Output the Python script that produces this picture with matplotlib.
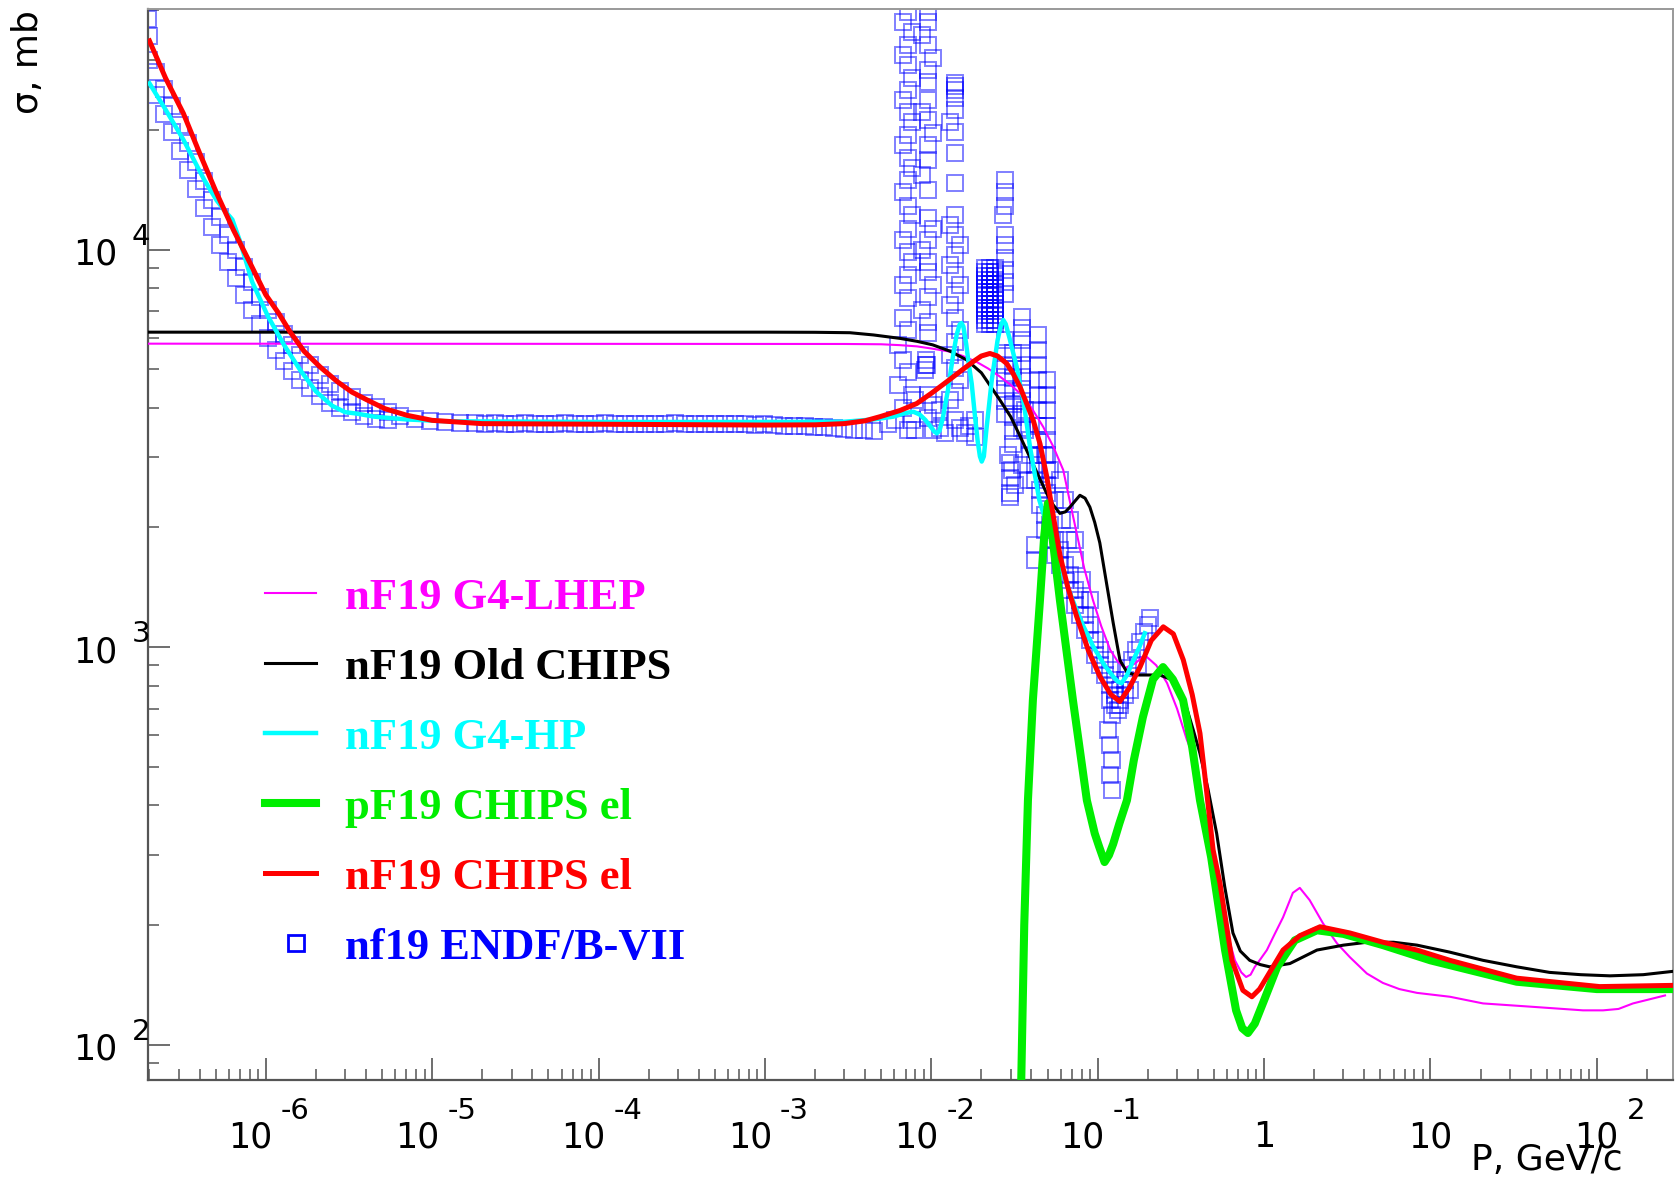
import matplotlib
matplotlib.use("Agg")
import matplotlib.pyplot as plt
from matplotlib.lines import Line2D

W, H, DPI = 1680, 1179, 100

# ---------------- data (P in GeV/c, sigma in mb) ----------------
lhep_p = [1.9e-7, 3.0e-3, 5.0e-3, 6.5e-3, 8.2e-3, 1.0e-2, 1.29e-2, 1.55e-2, 1.87e-2, 2.2e-2,
          2.59e-2, 3.0e-2, 3.41e-2, 4.0e-2, 4.71e-2, 5.4e-2, 6.21e-2, 6.8e-2, 7.48e-2, 8.3e-2,
          9.37e-2, 0.105, 0.119, 0.132, 0.146, 0.168, 0.192, 0.225, 0.261, 0.30, 0.344, 0.396,
          0.474, 0.583, 0.668, 0.73, 0.78, 0.83, 0.88, 0.95, 1.04, 1.16, 1.30, 1.49, 1.64,
          1.88, 2.26, 2.74, 3.28, 4.15, 5.18, 6.5, 8.3, 13.1, 20.7, 41.4, 82.6, 109, 135,
          165, 257]
lhep_s = [5800, 5790, 5780, 5750, 5710, 5640, 5540, 5400, 5220, 5020,
          4790, 4570, 4350, 4000, 3580, 3200, 2790, 2330, 1935, 1580,
          1313, 1130, 984, 920, 886, 910, 955, 900, 813, 700, 584, 505,
          309, 200, 163, 152, 148, 150, 157, 164, 173, 190, 209, 241, 248,
          231, 202, 180, 166, 151, 143, 138, 135, 132, 127, 124.5, 122, 122, 123,
          127, 133]

old_p = [1.9e-7, 1.0e-3, 2.0e-3, 3.24e-3, 4.5e-3, 6.49e-3, 8.2e-3, 1.02e-2, 1.3e-2, 1.63e-2,
         2.0e-2, 2.58e-2, 3.0e-2, 3.41e-2, 4.10e-2, 4.93e-2, 5.4e-2, 5.93e-2, 6.4e-2, 6.81e-2,
         7.3e-2, 7.82e-2, 8.4e-2, 8.98e-2, 9.6e-2, 0.103, 0.113, 0.124, 0.136, 0.150, 0.165,
         0.179, 0.236, 0.284, 0.327, 0.375, 0.412, 0.46, 0.519, 0.58, 0.65, 0.72, 0.82, 0.95,
         1.08, 1.43, 2.08, 3.0, 4.15, 6.0, 8.3, 13, 20.7, 33, 52, 80, 120, 190, 290]
old_s = [6200, 6200, 6195, 6180, 6100, 5980, 5880, 5760, 5550, 5280,
         4900, 4190, 3800, 3400, 2880, 2440, 2280, 2170, 2190, 2250,
         2330, 2410, 2370, 2250, 2060, 1830, 1450, 1150, 928, 865, 853,
         851, 851, 826, 750, 620, 540, 440, 340, 250, 191, 172, 163, 159,
         157, 160, 173, 178, 181, 181, 178, 171, 163, 157, 152, 150, 149, 150, 153]

hp_p = [2.0e-7, 2.5e-7, 3.2e-7, 4.26e-7, 5.07e-7, 5.6e-7, 6.3e-7, 7.0e-7, 8.28e-7, 1.03e-6,
        1.29e-6, 1.61e-6, 2.0e-6, 2.5e-6, 3.0e-6, 3.5e-6, 4.5e-6, 7.0e-6, 1.2e-5, 1e-4,
        1e-3, 3e-3, 4.5e-3, 5.91e-3, 7.0e-3, 7.8e-3, 8.5e-3, 9.2e-3, 1.0e-2, 1.04e-2,
        1.08e-2, 1.12e-2, 1.17e-2, 1.26e-2, 1.35e-2, 1.42e-2, 1.48e-2, 1.52e-2, 1.56e-2,
        1.62e-2, 1.68e-2, 1.75e-2, 1.82e-2, 1.90e-2, 1.96e-2, 2.01e-2, 2.07e-2, 2.14e-2,
        2.31e-2, 2.50e-2, 2.62e-2, 2.71e-2, 2.80e-2, 2.95e-2, 3.26e-2, 3.6e-2, 3.92e-2,
        4.46e-2, 5.0e-2, 5.61e-2, 6.3e-2, 7.07e-2, 8.2e-2, 9.42e-2, 0.11, 0.124, 0.132,
        0.139, 0.15, 0.164, 0.178, 0.192]
hp_s = [26200, 22500, 18900, 15000, 13300, 12600, 11900, 10500, 8300, 6800,
        5750, 4980, 4400, 4050, 3900, 3870, 3800, 3740, 3700, 3685,
        3685, 3690, 3740, 3800, 3880, 3910, 3850, 3730, 3570, 3490,
        3450, 3500, 3750, 4440, 5400, 6100, 6480, 6540, 6400,
        5800, 5150, 4600, 3900, 3300, 3020, 2930, 3020, 3500,
        4700, 5900, 6450, 6650, 6500, 6000, 5070, 4100, 3190,
        2345, 2000, 1754, 1500, 1313, 1130, 1002, 900, 843, 820,
        811, 850, 929, 1000, 1084]

pel_p = [0.0330, 0.0346, 0.0362, 0.0381, 0.0408, 0.0450, 0.0477, 0.0502, 0.0530, 0.0593,
         0.0710, 0.0861, 0.096, 0.102, 0.110, 0.117, 0.124, 0.135, 0.150, 0.165, 0.187,
         0.215, 0.247, 0.283, 0.326, 0.37, 0.412, 0.481, 0.583, 0.679, 0.74, 0.80, 0.88,
         0.998, 1.20, 1.53, 2.08, 3.0, 5.19, 10, 33, 100, 290]
pel_s = [30, 75, 200, 412, 736, 1313, 1900, 2300, 1950, 1313,
         736, 412, 340, 315, 288, 300, 320, 360, 412, 520, 667,
         830, 891, 830, 736, 560, 412, 296, 173, 122, 110, 107, 113,
         129, 157, 183, 194, 190, 178, 163, 144, 138, 138]

nel_p = [2.0e-7, 2.5e-7, 3.20e-7, 4.0e-7, 5.07e-7, 6.4e-7, 8.05e-7, 1.0e-6, 1.2e-6, 1.40e-6,
         1.7e-6, 2.12e-6, 2.7e-6, 3.3e-6, 4.05e-6, 5.2e-6, 7.06e-6, 1.0e-5, 2.0e-5, 1e-3,
         2.0e-3, 3.0e-3, 4.0e-3, 4.92e-3, 6.5e-3, 8.17e-3, 1.0e-2, 1.28e-2, 1.55e-2, 1.79e-2,
         2.0e-2, 2.25e-2, 2.5e-2, 2.84e-2, 3.1e-2, 3.41e-2, 3.7e-2, 4.10e-2, 4.5e-2, 4.93e-2,
         5.4e-2, 5.94e-2, 6.6e-2, 7.48e-2, 8.8e-2, 0.1033, 0.12, 0.136, 0.155, 0.180, 0.21,
         0.248, 0.285, 0.327, 0.37, 0.412, 0.45, 0.494, 0.543, 0.641, 0.746, 0.845, 0.94,
         1.04, 1.30, 1.64, 2.17, 3.28, 5.19, 8.3, 13.1, 33, 104, 290]
nel_s = [33500, 27000, 22000, 17500, 13860, 11200, 9250, 7700, 6900, 6210,
         5550, 5070, 4650, 4380, 4190, 3980, 3830, 3720, 3650, 3620,
         3625, 3650, 3710, 3800, 3940, 4100, 4350, 4700, 5000, 5230,
         5400, 5480, 5400, 5170, 4880, 4520, 4150, 3720, 3250, 2700,
         2150, 1700, 1420, 1194, 980, 843, 760, 730, 790, 893, 1040,
         1125, 1080, 929, 760, 607, 440, 309, 255, 163, 137, 132, 138,
         148, 173, 188, 198, 191, 181, 173, 163, 147, 140, 141]

# ENDF/B-VII points: smooth low-momentum part (two close rows on the steep part)
endf_low_p = [1.96e-7, 2.0e-7, 2.19e-7, 2.45e-7, 2.74e-7, 3.06e-7, 3.41e-7, 3.81e-7, 4.26e-7,
              4.75e-7, 5.31e-7, 5.93e-7, 6.62e-7, 7.41e-7, 8.28e-7, 9.25e-7, 1.03e-6, 1.15e-6,
              1.29e-6, 1.44e-6, 1.61e-6, 1.85e-6, 2.12e-6, 2.43e-6, 2.80e-6, 3.30e-6, 3.90e-6,
              4.60e-6, 5.43e-6, 6.41e-6, 7.89e-6, 9.70e-6, 1.19e-5, 1.47e-5,
              1.81e-5, 2.08e-5, 2.39e-5, 2.74e-5, 3.15e-5, 3.61e-5, 4.15e-5, 4.76e-5, 5.47e-5,
              6.28e-5, 7.21e-5, 8.27e-5, 9.50e-5, 1.09e-4, 1.25e-4, 1.44e-4, 1.65e-4, 1.89e-4,
              2.17e-4, 2.50e-4, 2.87e-4, 3.29e-4, 3.78e-4, 4.34e-4, 4.98e-4, 5.72e-4, 6.57e-4,
              7.54e-4, 8.66e-4, 9.94e-4, 1.14e-3, 1.31e-3, 1.50e-3, 1.73e-3, 1.98e-3, 2.28e-3,
              2.61e-3, 3.00e-3, 3.45e-3, 3.96e-3, 4.54e-3,
              2.0e-7, 2.19e-7, 2.45e-7, 2.74e-7, 3.06e-7, 3.41e-7, 3.81e-7, 4.26e-7, 4.75e-7,
              5.31e-7, 5.93e-7, 6.62e-7, 7.41e-7, 8.28e-7, 9.25e-7, 1.03e-6, 1.15e-6, 1.29e-6,
              1.44e-6, 1.61e-6, 1.85e-6, 2.12e-6, 2.43e-6, 2.80e-6, 3.30e-6, 3.90e-6, 4.60e-6,
              5.43e-6]
endf_low_s = [38000, 34500, 28000, 25400, 23000, 20600, 18500, 16600, 14900,
              13300, 12100, 10900, 9980, 9030, 8280, 7600, 7050, 6570,
              6130, 5760, 5430, 5120, 4830, 4590, 4410, 4270, 4120,
              4030, 3910, 3820, 3750, 3710, 3690, 3670,
              3660, 3650, 3660, 3640, 3650, 3660, 3650, 3640, 3650,
              3660, 3650, 3640, 3650, 3660, 3650, 3640, 3650, 3650,
              3640, 3650, 3660, 3650, 3640, 3650, 3650, 3640, 3650,
              3640, 3630, 3640, 3620, 3610, 3600, 3590, 3580, 3570,
              3560, 3540, 3520, 3510, 3500,
              30000, 24500, 22000, 19800, 17700, 15900, 14200, 12700, 11400,
              10300, 9300, 8500, 7700, 7050, 6500, 6000, 5600, 5250,
              4950, 4700, 4480, 4280, 4120, 4000, 3900, 3820, 3760,
              3720]

# ENDF/B-VII points: resonance region
endf_res_p = [
    # column near 7e-3
    7.24e-3, 6.76e-3, 7.66e-3, 7.24e-3, 6.76e-3, 7.24e-3, 7.66e-3, 7.24e-3, 6.76e-3, 7.24e-3,
    7.66e-3, 7.24e-3, 6.76e-3, 7.24e-3, 7.66e-3, 7.24e-3, 6.76e-3, 7.24e-3, 7.66e-3, 7.24e-3,
    6.76e-3, 7.24e-3, 7.66e-3, 7.24e-3, 6.76e-3, 7.24e-3, 6.76e-3, 7.24e-3, 6.31e-3, 6.76e-3,
    7.24e-3, 6.31e-3, 7.66e-3, 6.76e-3, 7.66e-3, 7.24e-3,
    # column near 9.5e-3
    9.55e-3, 9.55e-3, 8.79e-3, 9.55e-3, 1.023e-2, 9.55e-3, 9.55e-3, 9.55e-3, 8.79e-3, 9.55e-3,
    1.023e-2, 9.55e-3, 9.55e-3, 8.79e-3, 9.55e-3, 9.55e-3, 1.023e-2, 9.55e-3, 8.79e-3, 9.55e-3,
    9.55e-3, 1.023e-2, 9.55e-3, 8.79e-3, 9.55e-3, 9.55e-3, 9.3e-3, 9.3e-3, 9.4e-3, 9.2e-3,
    9.55e-3, 1.023e-2, 9.55e-3, 1.023e-2,
    # column near 1.4e-2
    1.387e-2, 1.387e-2, 1.387e-2, 1.387e-2, 1.387e-2, 1.294e-2, 1.387e-2, 1.387e-2, 1.387e-2,
    1.387e-2, 1.294e-2, 1.387e-2, 1.486e-2, 1.387e-2, 1.294e-2, 1.387e-2, 1.486e-2, 1.387e-2,
    1.294e-2, 1.387e-2, 1.486e-2, 1.387e-2, 1.294e-2, 1.387e-2, 1.486e-2, 1.387e-2, 1.294e-2,
    1.387e-2, 1.486e-2,
    # column near 2.7e-2 (upper)
    2.77e-2, 2.77e-2, 2.77e-2, 2.70e-2, 2.77e-2, 2.77e-2, 2.77e-2, 2.77e-2, 2.77e-2, 2.77e-2,
    # dense block near 2.25e-2
    2.10e-2, 2.10e-2, 2.10e-2, 2.10e-2, 2.10e-2, 2.10e-2, 2.10e-2, 2.10e-2,
    2.10e-2, 2.10e-2, 2.10e-2, 2.10e-2, 2.10e-2, 2.10e-2, 2.10e-2,
    2.25e-2, 2.25e-2, 2.25e-2, 2.25e-2, 2.25e-2, 2.25e-2, 2.25e-2, 2.25e-2,
    2.25e-2, 2.25e-2, 2.25e-2, 2.25e-2, 2.25e-2, 2.25e-2, 2.25e-2,
    2.41e-2, 2.41e-2, 2.41e-2, 2.41e-2, 2.41e-2, 2.41e-2, 2.41e-2, 2.41e-2,
    2.41e-2, 2.41e-2, 2.41e-2, 2.41e-2, 2.41e-2, 2.41e-2, 2.41e-2,
    # column near 2.77e-2 (lower) and 3e-2
    2.77e-2, 2.77e-2, 2.77e-2, 2.77e-2, 2.77e-2, 2.77e-2, 2.77e-2,
    2.97e-2, 2.97e-2, 2.97e-2,
    3.1e-2, 3.1e-2, 3.1e-2, 3.1e-2, 3.1e-2, 3.1e-2, 3.1e-2, 3.1e-2,
    # column near 3.5e-2
    3.51e-2, 3.51e-2, 3.51e-2, 3.51e-2, 3.51e-2, 3.51e-2, 3.51e-2, 3.51e-2, 3.51e-2, 3.51e-2,
    # columns near 4.4e-2 and 5e-2
    4.36e-2, 4.36e-2, 4.36e-2, 4.36e-2, 4.36e-2, 4.36e-2, 4.36e-2, 4.36e-2, 4.36e-2,
    4.98e-2, 4.98e-2, 4.98e-2, 4.98e-2, 4.98e-2, 4.98e-2, 4.98e-2, 4.98e-2, 4.98e-2,
    # low points between resonances
    5.49e-3, 6.05e-3, 7.98e-3, 7.98e-3, 1.127e-2, 1.127e-2, 1.828e-2, 1.828e-2, 1.68e-2,
    1.21e-2, 1.60e-2,
    # falling edge
    3.66e-2, 3.66e-2, 3.92e-2, 3.92e-2, 4.20e-2, 4.20e-2, 4.50e-2, 4.50e-2, 4.82e-2, 4.82e-2,
    5.16e-2, 5.16e-2, 5.53e-2, 5.53e-2, 5.93e-2, 5.93e-2, 6.35e-2, 6.35e-2, 6.81e-2, 6.81e-2,
    7.29e-2, 7.29e-2, 7.82e-2, 7.82e-2, 8.38e-2, 8.38e-2, 8.98e-2, 8.98e-2, 9.62e-2, 9.62e-2,
    0.103, 0.103, 0.111, 0.111, 0.119, 0.119, 0.127, 0.127, 0.136, 0.136, 0.1324,
    2.89e-2, 3.05e-2, 3.18e-2, 2.97e-2, 4.20e-2, 4.20e-2, 5.93e-2, 6.35e-2, 6.81e-2, 7.29e-2,
    5.16e-2, 5.53e-2, 6.10e-2, 6.63e-2, 7.29e-2, 8.05e-2, 8.98e-2, 4.82e-2, 3.81e-2, 3.51e-2,
    # deep points near 0.12
    0.119, 0.122, 0.1153, 0.119, 0.122, 0.119, 0.122,
    0.127, 0.127, 0.136, 0.146,
    # rise near 0.15-0.2
    0.146, 0.152, 0.1607, 0.170, 0.179, 0.1897, 0.2005, 0.206, 0.156, 0.1746,
]
endf_res_s = [
    39600, 37400, 35300, 32700, 30900, 29100, 27000, 25200, 23800, 22200,
    20900, 19400, 18300, 17000, 16000, 15000, 14000, 12900, 12200, 11300,
    10600, 9860, 9310, 8630, 8150, 7550, 6730, 6280, 5750, 5280,
    4920, 4560, 4310, 4000, 3730, 3520,
    39600, 37400, 34700, 32700, 30400, 28300, 26400, 23800, 22200, 21200,
    19600, 18300, 16800, 15400, 14100, 12000, 11300, 10600, 9980, 9310,
    8790, 8150, 7600, 7050, 6570, 6170, 5280, 5130, 5130, 4980,
    4310, 4060, 3770, 3520,
    26200, 25800, 25200, 24000, 22400, 20900, 19800, 17500, 14700,
    12200, 11500, 10900, 10300, 9680, 9140, 8630, 8150, 7690,
    7260, 6730, 6280, 5860, 5430, 5040, 4700, 4390, 4190,
    3730, 3560,
    15000, 14000, 12900, 12200, 10900, 10300, 9530, 8910, 8310, 7720,
    8970, 8770, 8570, 8390, 8200, 8020, 7840, 7670,
    7470, 7310, 7140, 6990, 6830, 6650, 6510,
    8970, 8770, 8570, 8390, 8200, 8020, 7840, 7670,
    7470, 7310, 7140, 6990, 6830, 6650, 6510,
    8970, 8770, 8570, 8390, 8200, 8020, 7840, 7670,
    7470, 7310, 7140, 6990, 6830, 6650, 6510,
    5930, 5500, 5130, 4790, 4460, 4150, 3850,
    2900, 2660, 2440,
    5500, 5100, 4750, 4400, 4100, 3800, 3500, 3250,
    6770, 6350, 5930, 5500, 5130, 4790, 4460, 4150, 3850, 3560,
    6100, 5600, 5130, 4700, 4310, 3940, 3610, 3320, 3040,
    4700, 4310, 3940, 3610, 3320, 3040, 2790, 2560, 2440,
    3640, 3730, 4190, 3520, 3940, 3560, 3730, 3380, 3610,
    3450, 3450,
    3950, 3520, 3320, 3040, 2870, 2630, 2480, 2280, 2150, 1970,
    2030, 1860, 1860, 1705, 1755, 1610, 1610, 1475, 1518, 1393,
    1393, 1276, 1313, 1205, 1205, 1104, 1137, 1042, 1042, 955,
    984, 902, 928, 851, 876, 803, 826, 758, 780, 715, 695,
    3040, 2790, 2560, 2390, 1810, 1656, 2630, 2345, 2090, 1860,
    2790, 2345, 2090, 1860, 1656, 1475, 1313, 3040, 2630, 2870,
    736, 675, 618, 567, 520, 476, 437,
    780, 715, 736, 760,
    826, 886, 928, 984, 1030, 1092, 1137, 1184, 780, 902,
]

x_ticks = [1e-6, 1e-5, 1e-4, 1e-3, 1e-2, 1e-1, 1, 10, 100]
x_tick_base = ["10", "10", "10", "10", "10", "10", "1", "10", "10"]
x_tick_exp = ["-6", "-5", "-4", "-3", "-2", "-1", "", "", "2"]
y_ticks = [1e2, 1e3, 1e4]
y_tick_exp = ["2", "3", "4"]

legend_labels = ["nF19 G4-LHEP", "nF19 Old CHIPS", "nF19 G4-HP", "pF19 CHIPS el",
                 "nF19 CHIPS el", "nf19 ENDF/B-VII"]

# ---------------- figure ----------------
MAG, BLK, CYA, GRN, RED, BLU = "#ff00ff", "#000000", "#00ffff", "#00ee00", "#ff0000", "#0000ff"
LW = {"m": 1.5, "k": 2.2, "c": 3.2, "g": 5.8, "r": 3.6}

fig = plt.figure(figsize=(W / DPI, H / DPI), dpi=DPI)
ax = fig.add_axes([148 / W, 1 - 1080 / H, (1673 - 148) / W, (1080 - 9) / H])
ax.set_xscale("log")
ax.set_yscale("log")

ax.plot(endf_low_p + endf_res_p, endf_low_s + endf_res_s, linestyle="none", marker="s",
        markersize=11.5, markerfacecolor="none", markeredgecolor=BLU, markeredgewidth=1.4,
        alpha=0.5, zorder=2)
ax.plot(lhep_p, lhep_s, color=MAG, lw=LW["m"], zorder=3)
ax.plot(old_p, old_s, color=BLK, lw=LW["k"], zorder=4)
ax.plot(hp_p, hp_s, color=CYA, lw=LW["c"], zorder=5)
ax.plot(pel_p, pel_s, color=GRN, lw=LW["g"], zorder=6)
ax.plot(nel_p, nel_s, color=RED, lw=LW["r"], zorder=7)

ax.set_xlim(1.96e-7, 287)
ax.set_ylim(81.5, 40300)

for side in ["left", "bottom"]:
    ax.spines[side].set_color("#555555")
    ax.spines[side].set_linewidth(1.6)
for side in ["top", "right"]:
    ax.spines[side].set_color("#999999")
    ax.spines[side].set_linewidth(1.4)

ax.set_xticks(x_ticks)
ax.set_yticks(y_ticks)
ax.tick_params(which="major", direction="in", length=16, width=1.2, color="#555555",
               top=False, right=False, labelbottom=False, labelleft=False)
ax.tick_params(which="minor", direction="in", length=8, width=1.1, color="#555555",
               top=False, right=False, labelbottom=False, labelleft=False)

# x tick labels (ROOT style 10 + raised exponent)
PT = 0.72  # points per pixel
for t, base, ex in zip(x_ticks, x_tick_base, x_tick_exp):
    if ex == "":
        ax.annotate(base, xy=(t, 0), xycoords=("data", "axes fraction"),
                    xytext=(0, -67 * PT), textcoords="offset points",
                    ha="center", va="baseline", fontsize=25)
    else:
        if ex.startswith("-"):
            r10, lex = 7, 15
        else:
            r10, lex = 22, 30
        ax.annotate(base, xy=(t, 0), xycoords=("data", "axes fraction"),
                    xytext=(r10 * PT, -67 * PT), textcoords="offset points",
                    ha="right", va="baseline", fontsize=25)
        ax.annotate(ex, xy=(t, 0), xycoords=("data", "axes fraction"),
                    xytext=(lex * PT, -39 * PT), textcoords="offset points",
                    ha="left", va="baseline", fontsize=21)

for t, ex in zip(y_ticks, y_tick_exp):
    ax.annotate("10", xy=(0, t), xycoords=("axes fraction", "data"),
                xytext=(-31 * PT, -15 * PT), textcoords="offset points",
                ha="right", va="baseline", fontsize=25)
    ax.annotate(ex, xy=(0, t), xycoords=("axes fraction", "data"),
                xytext=(-16 * PT, 5 * PT), textcoords="offset points",
                ha="left", va="baseline", fontsize=21)

# axis titles
fig.text(28 / W, 1 - 10 / H, "σ, mb", rotation=90, ha="center", va="top", fontsize=26)
fig.text(1623 / W, 1 - 1170 / H, "P, GeV/c", ha="right", va="baseline", fontsize=26)

# legend (drawn manually, ROOT style, no frame)
rows_y = [593, 663, 733, 803, 873, 943]
colors = [MAG, BLK, CYA, GRN, RED, BLU]
widths = [LW["m"], LW["k"], LW["c"], LW["g"], LW["r"], None]
for yy, col, lw, lab in zip(rows_y, colors, widths, legend_labels):
    fy = 1 - yy / H
    if lw is not None:
        fig.add_artist(Line2D([265 / W, 316 / W], [fy, fy], color=col, lw=lw,
                              transform=fig.transFigure))
    else:
        fig.add_artist(Line2D([296 / W], [fy], linestyle="none", marker="s", markersize=12,
                              markerfacecolor="none", markeredgecolor=col,
                              markeredgewidth=2.0, transform=fig.transFigure))
    fig.text(345 / W, 1 - (yy + 16) / H, lab, color=col, fontsize=32, fontweight="bold",
             family=["Liberation Serif", "DejaVu Serif"], ha="left", va="baseline")

fig.savefig("out.png", dpi=DPI)
